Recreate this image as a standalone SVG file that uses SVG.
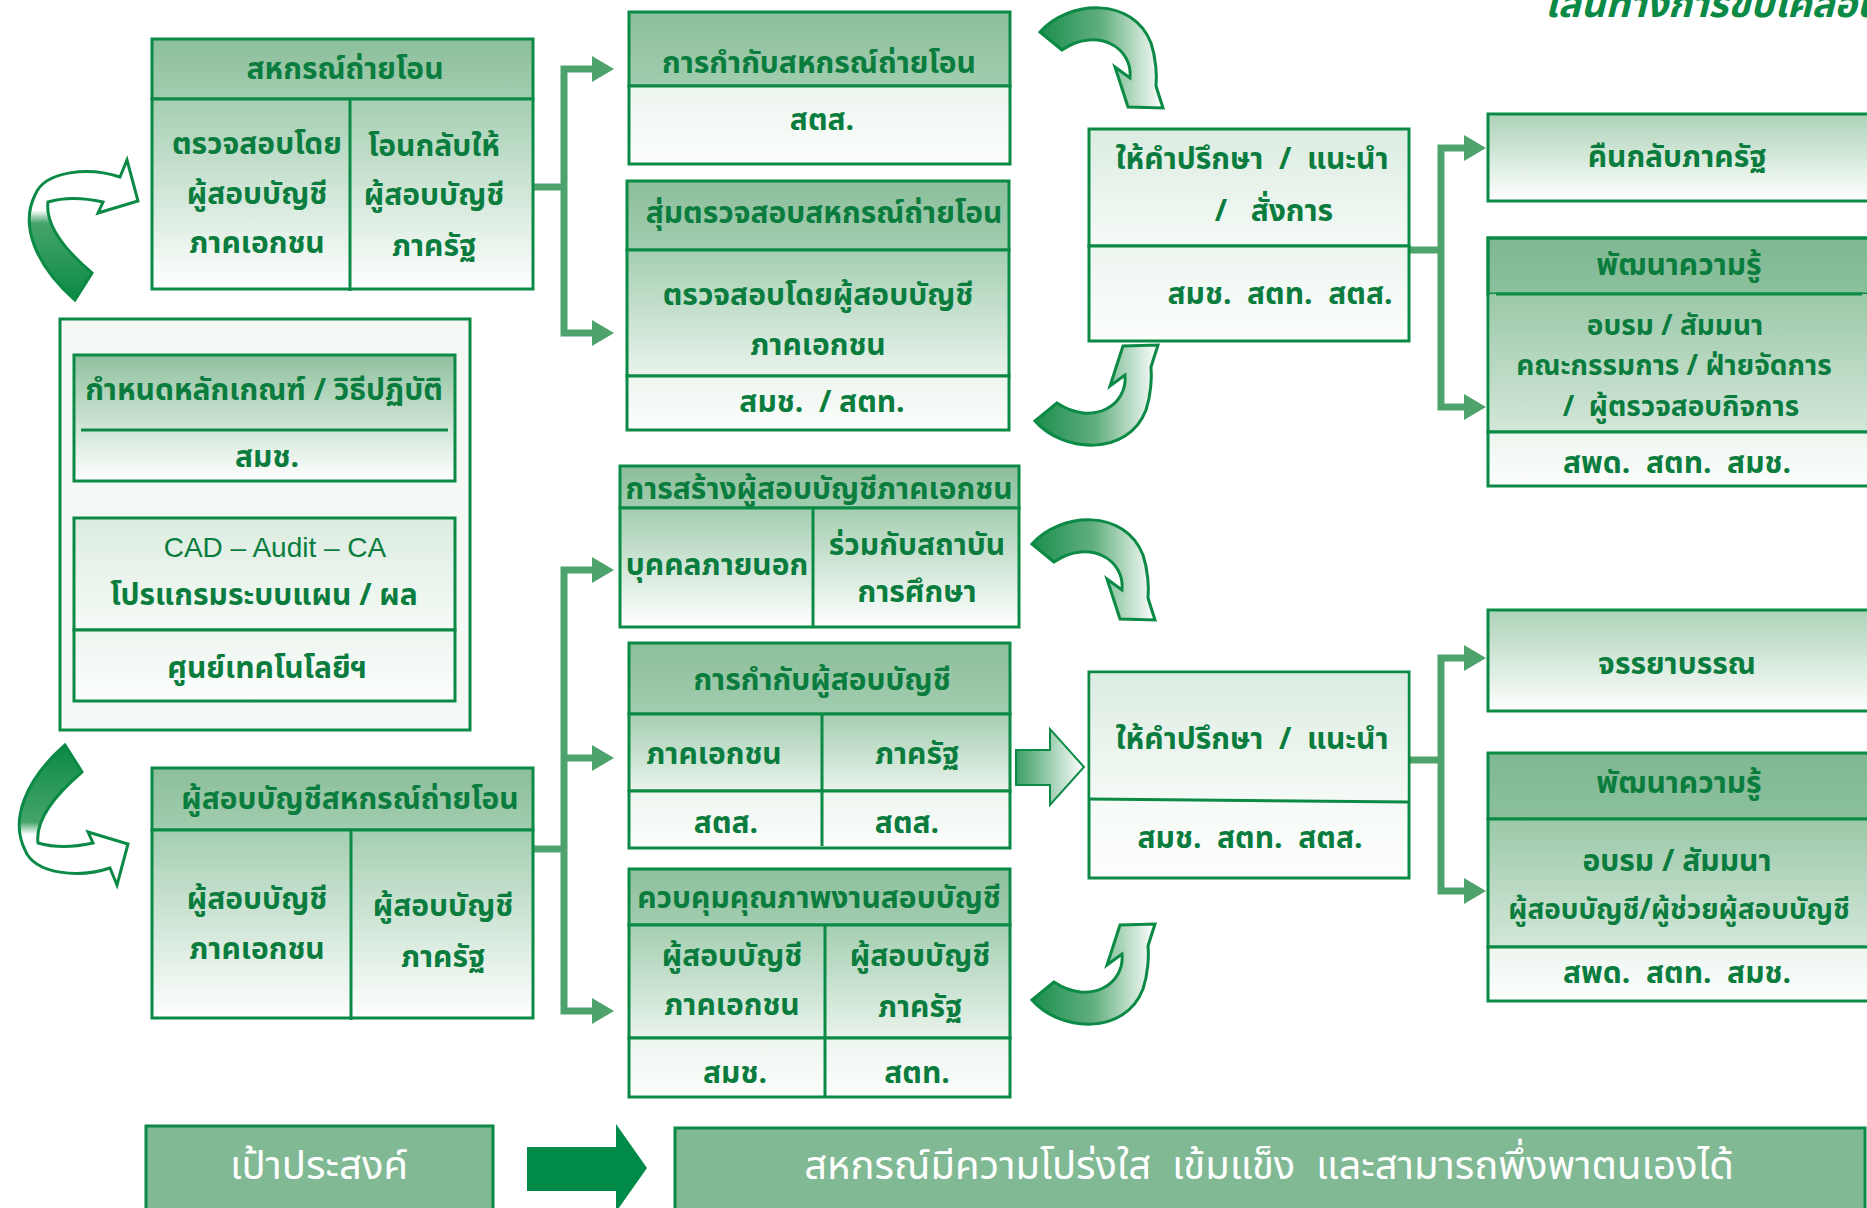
<svg xmlns="http://www.w3.org/2000/svg" width="1867" height="1208" viewBox="0 0 1867 1208">
<defs>
<style>
.bx{stroke:#0b8a45;stroke-width:3}
.ln{stroke:#0b8a45;stroke-width:3;fill:none}
.t{font-family:"Noto Sans Thai","Noto Sans","Liberation Sans",sans-serif;font-weight:700;font-size:30px;fill:#0a7d3e;text-anchor:middle}
.s{font-size:28px}
.en{font-family:"Liberation Sans",Arial,sans-serif;font-weight:400;font-size:28px;fill:#0a7d3e;text-anchor:middle}
.w{font-family:"Noto Sans Thai","Noto Sans","Liberation Sans",sans-serif;font-weight:400;font-size:40px;fill:#ffffff;text-anchor:middle}
.conn{stroke:#4ea26c;stroke-width:7;fill:none;stroke-linejoin:miter}
.ca{fill:url(#gArc);stroke:#0b8a45;stroke-width:3}
.la{fill:url(#gLeft);stroke:#0b8a45;stroke-width:3}
</style>
<linearGradient id="gHdr" x1="0" y1="0" x2="0" y2="1"><stop offset="0" stop-color="#8cbf9b"/><stop offset="1" stop-color="#a2cdb0"/></linearGradient>
<linearGradient id="gBody" x1="0" y1="0" x2="0" y2="1"><stop offset="0" stop-color="#a4ceb1"/><stop offset="1" stop-color="#ffffff"/></linearGradient>
<linearGradient id="gMid" x1="0" y1="0" x2="0" y2="1"><stop offset="0" stop-color="#a4ceb1"/><stop offset="1" stop-color="#e9f3ec"/></linearGradient>
<linearGradient id="gLight" x1="0" y1="0" x2="0" y2="1"><stop offset="0" stop-color="#edf5ef"/><stop offset="1" stop-color="#fcfefc"/></linearGradient>
<linearGradient id="gPale" x1="0" y1="0" x2="0" y2="1"><stop offset="0" stop-color="#dcece1"/><stop offset="1" stop-color="#f5faf6"/></linearGradient>
<linearGradient id="gE" x1="0" y1="0" x2="0" y2="1"><stop offset="0" stop-color="#acd2b7"/><stop offset="1" stop-color="#ffffff"/></linearGradient>
<linearGradient id="gFH" x1="0" y1="0" x2="0" y2="1"><stop offset="0" stop-color="#7fb892"/><stop offset="1" stop-color="#8cc09d"/></linearGradient>
<linearGradient id="gFM" x1="0" y1="0" x2="0" y2="1"><stop offset="0" stop-color="#9bc8a8"/><stop offset="1" stop-color="#d3e7d9"/></linearGradient>
<linearGradient id="gG" x1="0" y1="0" x2="0" y2="1"><stop offset="0" stop-color="#8fc19e"/><stop offset="1" stop-color="#ffffff"/></linearGradient>
<linearGradient id="gArc" x1="0" y1="0" x2="1" y2="0"><stop offset="0" stop-color="#1b8e4d"/><stop offset="0.5" stop-color="#62af7e"/><stop offset="1" stop-color="#ffffff"/></linearGradient>
<linearGradient id="gLeft" x1="0" y1="0" x2="0" y2="1"><stop offset="0" stop-color="#0b8a45"/><stop offset="0.55" stop-color="#45a46a"/><stop offset="0.64" stop-color="#ffffff"/><stop offset="1" stop-color="#ffffff"/></linearGradient>
<linearGradient id="gBlk" x1="0" y1="0" x2="1" y2="0"><stop offset="0" stop-color="#3b9e63"/><stop offset="1" stop-color="#ffffff"/></linearGradient>
<marker id="ah" markerWidth="22" markerHeight="26" refX="0" refY="13" orient="auto-start-reverse" markerUnits="userSpaceOnUse"><path d="M0,0 L22,13 L0,26 Z" fill="#4ea26c"/></marker>
<path id="arcR" d="M24,42 L2,24 C30,-8 95,-12 113,35 C118,50 119,68 118,78 L125,100 L90,99 L77,59 L92,70 C95,40 60,18 24,42 Z"/>
<path id="arcL" d="M55,5 L72,32 C45,55 25,80 28,103 C45,108 65,107 83,103 L78,92 L118,104 L107,145 L100,128 C70,138 25,135 15,110 C0,80 15,40 55,5 Z"/>
</defs>
<rect width="1867" height="1208" fill="#ffffff"/>

<text x="1545" y="17" style="font-family:'Noto Sans Thai','Noto Sans',sans-serif;font-weight:700;font-style:italic;font-size:38px;fill:#0a8a45">เส้นทางการขับเคลื่อน</text>

<g id="connectors">
<path class="conn" d="M533,187 H564"/>
<path class="conn" d="M592,69 H564 V333 H592" marker-start="url(#ah)" marker-end="url(#ah)"/>
<path class="conn" d="M1409,250 H1441"/>
<path class="conn" d="M1464,148 H1441 V407 H1464" marker-start="url(#ah)" marker-end="url(#ah)"/>
<path class="conn" d="M533,849 H564"/>
<path class="conn" d="M592,570 H564 V1011 H592" marker-start="url(#ah)" marker-end="url(#ah)"/>
<path class="conn" d="M564,758 H592" marker-end="url(#ah)"/>
<path class="conn" d="M1409,760 H1441"/>
<path class="conn" d="M1464,658 H1441 V891 H1464" marker-start="url(#ah)" marker-end="url(#ah)"/>
<use href="#arcR" class="ca" transform="translate(1038,8)"/>
<use href="#arcR" class="ca" transform="translate(1033,445) scale(1,-1)"/>
<use href="#arcR" class="ca" transform="translate(1030,520)"/>
<use href="#arcR" class="ca" transform="translate(1030,1024) scale(1,-1)"/>
<use href="#arcL" class="la" transform="translate(20,305) scale(1,-1)"/>
<use href="#arcL" class="la" transform="translate(10,740)"/>
<path d="M1016,750 H1050 V729 L1084,767 L1050,805 V785 H1016 Z" fill="url(#gBlk)" stroke="#0b8a45" stroke-width="2"/>
<path d="M527,1147 H616 V1124 L647,1168 L616,1212 V1191 H527 Z" fill="#008a4a"/>
</g>

<g id="node-a">
<rect class="bx" x="152" y="39" width="381" height="60" fill="url(#gHdr)"/>
<rect class="bx" x="152" y="99" width="381" height="190" fill="url(#gBody)"/>
<line class="ln" x1="350" y1="99" x2="350" y2="291"/>
<text class="t" x="345" y="79">สหกรณ์ถ่ายโอน</text>
<text class="t" x="257" y="154">ตรวจสอบโดย</text>
<text class="t" x="257" y="204">ผู้สอบบัญชี</text>
<text class="t" x="257" y="253">ภาคเอกชน</text>
<text class="t" x="434" y="156">โอนกลับให้</text>
<text class="t" x="434" y="205">ผู้สอบบัญชี</text>
<text class="t" x="434" y="256">ภาครัฐ</text>
</g>

<g id="node-b">
<rect class="bx" x="629" y="12" width="381" height="74" fill="url(#gHdr)"/>
<rect class="bx" x="629" y="86" width="381" height="78" fill="url(#gLight)"/>
<text class="t" x="819" y="73">การกำกับสหกรณ์ถ่ายโอน</text>
<text class="t" x="822" y="130">สตส.</text>
</g>

<g id="node-c">
<rect class="bx" x="627" y="181" width="382" height="69" fill="url(#gHdr)"/>
<rect class="bx" x="627" y="250" width="382" height="126" fill="url(#gMid)"/>
<rect class="bx" x="627" y="376" width="382" height="54" fill="url(#gLight)"/>
<text class="t" x="824" y="223">สุ่มตรวจสอบสหกรณ์ถ่ายโอน</text>
<text class="t" x="818" y="305">ตรวจสอบโดยผู้สอบบัญชี</text>
<text class="t" x="818" y="355">ภาคเอกชน</text>
<text class="t" x="822" y="412" xml:space="preserve">สมช.  / สตท.</text>
</g>

<g id="node-d">
<rect class="bx" x="1089" y="129" width="320" height="117" fill="url(#gPale)"/>
<rect class="bx" x="1089" y="246" width="320" height="95" fill="url(#gLight)"/>
<text class="t" x="1252" y="169" xml:space="preserve">ให้คำปรึกษา  /  แนะนำ</text>
<text class="t" x="1274" y="221" xml:space="preserve">/   สั่งการ</text>
<text class="t" x="1280" y="304" xml:space="preserve">สมช.  สตท.  สตส.</text>
</g>

<g id="node-e">
<rect class="bx" x="1488" y="114" width="384" height="87" fill="url(#gE)"/>
<text class="t" x="1677" y="167">คืนกลับภาครัฐ</text>
</g>

<g id="node-f">
<rect class="bx" x="1488" y="238" width="384" height="56" fill="url(#gFH)"/>
<rect x="1489.5" y="294" width="381" height="138" fill="url(#gFM)"/>
<rect class="bx" x="1488" y="238" width="384" height="194" fill="none"/>
<line class="ln" x1="1496" y1="294" x2="1862" y2="294"/>
<rect class="bx" x="1488" y="432" width="384" height="54" fill="url(#gLight)"/>
<text class="t" x="1679" y="275">พัฒนาความรู้</text>
<text class="t s" x="1675" y="335">อบรม / สัมมนา</text>
<text class="t s" x="1674" y="375">คณะกรรมการ / ฝ่ายจัดการ</text>
<text class="t s" x="1681" y="416" xml:space="preserve">/  ผู้ตรวจสอบกิจการ</text>
<text class="t" x="1677" y="473" xml:space="preserve">สพด.  สตท.  สมช.</text>
</g>

<g id="node-left">
<rect class="bx" x="60" y="319" width="410" height="411" fill="#f4f9f5"/>
<g id="node-g">
<rect class="bx" x="74" y="355" width="381" height="126" fill="url(#gG)"/>
<line class="ln" x1="81" y1="430" x2="448" y2="430"/>
<text class="t" x="264" y="400">กำหนดหลักเกณฑ์ / วิธีปฏิบัติ</text>
<text class="t" x="267" y="467">สมช.</text>
</g>
<g id="node-h">
<rect class="bx" x="74" y="518" width="381" height="112" fill="url(#gPale)"/>
<rect class="bx" x="74" y="630" width="381" height="71" fill="url(#gLight)"/>
<text class="en" x="275" y="557">CAD – Audit – CA</text>
<text class="t" x="264" y="605">โปรแกรมระบบแผน / ผล</text>
<text class="t" x="267" y="678">ศูนย์เทคโนโลยีฯ</text>
</g>
</g>

<g id="node-i">
<rect class="bx" x="152" y="768" width="381" height="62" fill="url(#gHdr)"/>
<rect class="bx" x="152" y="830" width="381" height="188" fill="url(#gBody)"/>
<line class="ln" x1="351" y1="830" x2="351" y2="1020"/>
<text class="t" x="350" y="809">ผู้สอบบัญชีสหกรณ์ถ่ายโอน</text>
<text class="t" x="257" y="909">ผู้สอบบัญชี</text>
<text class="t" x="257" y="959">ภาคเอกชน</text>
<text class="t" x="443" y="916">ผู้สอบบัญชี</text>
<text class="t" x="443" y="967">ภาครัฐ</text>
</g>

<g id="node-j">
<rect class="bx" x="620" y="466" width="399" height="42" fill="url(#gHdr)"/>
<rect class="bx" x="620" y="508" width="399" height="119" fill="url(#gBody)"/>
<line class="ln" x1="813" y1="508" x2="813" y2="627"/>
<text class="t" x="819" y="499">การสร้างผู้สอบบัญชีภาคเอกชน</text>
<text class="t" x="717" y="575">บุคคลภายนอก</text>
<text class="t" x="917" y="555">ร่วมกับสถาบัน</text>
<text class="t" x="917" y="602">การศึกษา</text>
</g>

<g id="node-k">
<rect class="bx" x="629" y="643" width="381" height="71" fill="url(#gHdr)"/>
<rect class="bx" x="629" y="714" width="381" height="77" fill="url(#gMid)"/>
<rect class="bx" x="629" y="791" width="381" height="57" fill="url(#gLight)"/>
<line class="ln" x1="822" y1="714" x2="822" y2="846"/>
<text class="t" x="822" y="690">การกำกับผู้สอบบัญชี</text>
<text class="t" x="714" y="764">ภาคเอกชน</text>
<text class="t" x="917" y="764">ภาครัฐ</text>
<text class="t" x="726" y="833">สตส.</text>
<text class="t" x="907" y="833">สตส.</text>
</g>

<g id="node-l">
<rect class="bx" x="629" y="869" width="381" height="56" fill="url(#gHdr)"/>
<rect class="bx" x="629" y="925" width="381" height="113" fill="url(#gMid)"/>
<rect class="bx" x="629" y="1038" width="381" height="59" fill="url(#gLight)"/>
<line class="ln" x1="825" y1="925" x2="825" y2="1097"/>
<text class="t" x="819" y="908">ควบคุมคุณภาพงานสอบบัญชี</text>
<text class="t" x="732" y="966">ผู้สอบบัญชี</text>
<text class="t" x="732" y="1015">ภาคเอกชน</text>
<text class="t" x="920" y="966">ผู้สอบบัญชี</text>
<text class="t" x="920" y="1017">ภาครัฐ</text>
<text class="t" x="735" y="1083">สมช.</text>
<text class="t" x="917" y="1083">สตท.</text>
</g>

<g id="node-m">
<rect class="bx" x="1089" y="672" width="320" height="206" fill="url(#gLight)"/>
<path d="M1090.5,673.5 H1407.5 V802 L1090.5,799 Z" fill="url(#gPale)"/>
<line class="ln" x1="1089" y1="799" x2="1409" y2="802"/>
<text class="t" x="1252" y="749" xml:space="preserve">ให้คำปรึกษา  /  แนะนำ</text>
<text class="t" x="1250" y="848" xml:space="preserve">สมช.  สตท.  สตส.</text>
</g>

<g id="node-n">
<rect class="bx" x="1488" y="610" width="384" height="101" fill="url(#gE)"/>
<text class="t" x="1677" y="674">จรรยาบรรณ</text>
</g>

<g id="node-o">
<rect class="bx" x="1488" y="753" width="384" height="66" fill="url(#gFH)"/>
<rect class="bx" x="1488" y="819" width="384" height="128" fill="url(#gFM)"/>
<rect class="bx" x="1488" y="947" width="384" height="54" fill="url(#gLight)"/>
<text class="t" x="1679" y="793">พัฒนาความรู้</text>
<text class="t" x="1677" y="871">อบรม / สัมมนา</text>
<text class="t s" x="1679" y="919">ผู้สอบบัญชี/ผู้ช่วยผู้สอบบัญชี</text>
<text class="t" x="1677" y="983" xml:space="preserve">สพด.  สตท.  สมช.</text>
</g>

<g id="node-goal">
<rect x="146" y="1126" width="347" height="95" fill="#80b994" stroke="#0b8a45" stroke-width="3"/>
<text class="w" x="319" y="1179">เป้าประสงค์</text>
</g>

<g id="node-result">
<rect x="675" y="1128" width="1190" height="95" fill="#80b994" stroke="#0b8a45" stroke-width="3"/>
<text class="w" x="1269" y="1179" xml:space="preserve">สหกรณ์มีความโปร่งใส  เข้มแข็ง  และสามารถพึ่งพาตนเองได้</text>
</g>
</svg>
